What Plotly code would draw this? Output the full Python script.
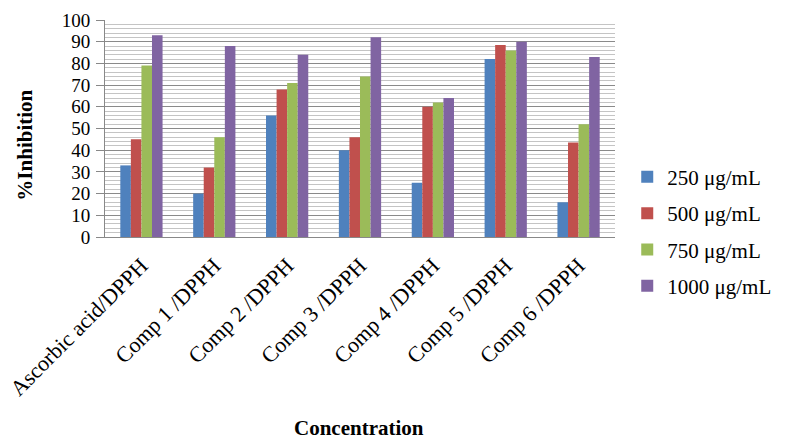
import plotly.graph_objects as go

categories = ["Ascorbic acid/DPPH", "Comp 1 /DPPH", "Comp 2 /DPPH", "Comp 3 /DPPH",
              "Comp 4 /DPPH", "Comp 5 /DPPH", "Comp 6 /DPPH"]
series_names = ["250 μg/mL", "500 μg/mL", "750 μg/mL", "1000 μg/mL"]
v250 = [33, 20, 56, 40, 25, 82, 16]
v500 = [45, 32, 68, 46, 60, 88.5, 43.5]
v750 = [79, 46, 71, 74, 62, 86, 52]
v1000 = [93, 88, 84, 92, 64, 90, 83]
colors = ["#4F81BD", "#C0504D", "#9BBB59", "#8064A2"]
y_ticks = list(range(0, 101, 10))

font_family = "Liberation Serif, Times New Roman, serif"

fig = go.Figure()
for i, (name, vals) in enumerate(zip(series_names, [v250, v500, v750, v1000])):
    fig.add_trace(go.Bar(x=categories, y=vals, name=name, marker_color=colors[i],
                         marker_line_width=0, legendgroup=name))

fig.update_layout(
    width=787, height=441,
    margin=dict(l=105, r=164, t=10, b=204),
    paper_bgcolor="white", plot_bgcolor="white",
    barmode="group", bargap=0.42, bargroupgap=0,
    font=dict(family=font_family, size=20, color="black"),
    showlegend=True,
    legend=dict(x=1.024, y=0.37, xanchor="left", yanchor="top",
                traceorder="grouped", tracegroupgap=6,
                font=dict(family=font_family, size=21, color="black"),
                itemwidth=30, bgcolor="rgba(0,0,0,0)"),
)

fig.update_yaxes(
    range=[0, 100], tickvals=y_ticks, ticktext=[str(t) for t in y_ticks],
    showline=True, linecolor="#888888", linewidth=1,
    ticks="outside", ticklen=8, tickcolor="#888888",
    showgrid=True, gridcolor="#8a8a8a", gridwidth=1,
    minor=dict(dtick=2, showgrid=True, gridcolor="#c4c4c4", gridwidth=1, ticks=""),
    tickfont=dict(family=font_family, size=19, color="black"),
    ticklabeloverflow="allow", ticklabelstandoff=2,
    zeroline=False,
)
fig.update_xaxes(
    showline=True, linecolor="#888888", linewidth=1,
    tickangle=-45, tickfont=dict(family=font_family, size=22, color="black"),
    ticks="", showgrid=False, automargin=False, ticklabelstandoff=6,
    ticklabeloverflow="allow",
)

fig.add_annotation(text="<b>%Inhibition</b>", xref="paper", yref="paper",
                   x=-0.156, y=0.423, textangle=-90, showarrow=False,
                   font=dict(family=font_family, size=21, color="black"),
                   xanchor="center", yanchor="middle")
fig.add_annotation(text="<b>Concentration</b>", xref="paper", yref="paper",
                   x=0.498, y=-0.88, showarrow=False,
                   font=dict(family=font_family, size=21, color="black"),
                   xanchor="center", yanchor="middle")

fig.write_html("out.html", config={"displayModeBar": False},
               post_script="document.body.style.margin='0';document.body.style.overflow='hidden';")
